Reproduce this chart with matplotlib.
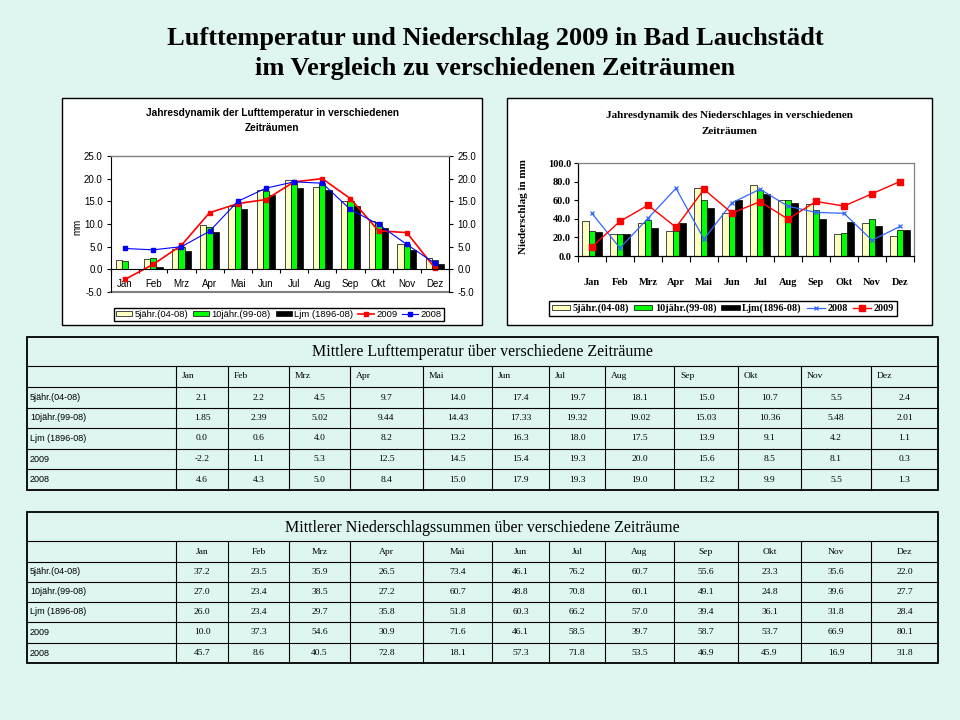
import matplotlib
matplotlib.use('Agg')
import matplotlib.pyplot as plt
import numpy as np
from matplotlib.patches import Rectangle

W, H = 960, 720
SERIF = 'Liberation Serif'
SANS = 'Liberation Sans'

months = ['Jan', 'Feb', 'Mrz', 'Apr', 'Mai', 'Jun', 'Jul', 'Aug', 'Sep', 'Okt', 'Nov', 'Dez']
row_labels = ['5jähr.(04-08)', '10jähr.(99-08)', 'Ljm (1896-08)', '2009', '2008']

# Lufttemperatur
temp_5j = [2.1, 2.2, 4.5, 9.7, 14.0, 17.4, 19.7, 18.1, 15.0, 10.7, 5.5, 2.4]
temp_10j = [1.85, 2.39, 5.02, 9.44, 14.43, 17.33, 19.32, 19.02, 15.03, 10.36, 5.48, 2.01]
temp_ljm = [0.0, 0.6, 4.0, 8.2, 13.2, 16.3, 18.0, 17.5, 13.9, 9.1, 4.2, 1.1]
temp_2009 = [-2.2, 1.1, 5.3, 12.5, 14.5, 15.4, 19.3, 20.0, 15.6, 8.5, 8.1, 0.3]
temp_2008 = [4.6, 4.3, 5.0, 8.4, 15.0, 17.9, 19.3, 19.0, 13.2, 9.9, 5.5, 1.3]

# Niederschlag
prec_5j = [37.2, 23.5, 35.9, 26.5, 73.4, 46.1, 76.2, 60.7, 55.6, 23.3, 35.6, 22.0]
prec_10j = [27.0, 23.4, 38.5, 27.2, 60.7, 48.8, 70.8, 60.1, 49.1, 24.8, 39.6, 27.7]
prec_ljm = [26.0, 23.4, 29.7, 35.8, 51.8, 60.3, 66.2, 57.0, 39.4, 36.1, 31.8, 28.4]
prec_2009 = [10.0, 37.3, 54.6, 30.9, 71.6, 46.1, 58.5, 39.7, 58.7, 53.7, 66.9, 80.1]
prec_2008 = [45.7, 8.6, 40.5, 72.8, 18.1, 57.3, 71.8, 53.5, 46.9, 45.9, 16.9, 31.8]

bg = '#DEF5F0'
c_yel = '#FFFFC0'
c_grn = '#00FF00'
grey = '#808080'


def px_axes(x0, y0, x1, y1):
    return fig.add_axes([x0 / W, 1 - y1 / H, (x1 - x0) / W, (y1 - y0) / H])


fig = plt.figure(figsize=(9.6, 7.2), dpi=100)
fig.patch.set_facecolor(bg)

page = fig.add_axes([0, 0, 1, 1])
page.set_xlim(0, W)
page.set_ylim(H, 0)
page.axis('off')

page.text(495, 38, 'Lufttemperatur und Niederschlag 2009 in Bad Lauchstädt',
          ha='center', va='center', fontsize=19, fontweight='bold', family=SERIF)
page.text(495, 68, 'im Vergleich zu verschiedenen Zeiträumen',
          ha='center', va='center', fontsize=19, fontweight='bold', family=SERIF)

# panels
page.add_patch(Rectangle((62, 98), 420, 227, fc='white', ec='black', lw=1))
page.add_patch(Rectangle((507, 98), 425, 227, fc='white', ec='black', lw=1))

x = np.arange(12)

# ---- Temperatur chart
page.text(272, 113, 'Jahresdynamik der Lufttemperatur in verschiedenen',
          ha='center', va='center', fontsize=7.3, fontweight='bold', family=SANS)
page.text(272, 128, 'Zeiträumen', ha='center', va='center', fontsize=7.3,
          fontweight='bold', family=SANS)

ax1 = px_axes(111, 156, 449, 292)
ax1.set_facecolor('none')
bw = 0.22
b1 = ax1.bar(x - bw, temp_5j, bw, color=c_yel, ec='black', lw=0.5)
b2 = ax1.bar(x, temp_10j, bw, color=c_grn, ec='black', lw=0.5)
b3 = ax1.bar(x + bw, temp_ljm, bw, color='black', ec='black', lw=0.5)
l1, = ax1.plot(x, temp_2009, color='#FF0000', lw=1.2, marker='s', ms=3.5)
l2, = ax1.plot(x, temp_2008, color='#0000FF', lw=0.8, marker='s', ms=3)
ax1.set_xlim(-0.5, 11.5)
ax1.set_ylim(-5, 25)
ax1.set_yticks(np.arange(-5, 26, 5))
ax1.set_yticklabels(['%.1f' % v for v in np.arange(-5, 26, 5)], family=SANS, fontsize=7)
ax1.yaxis.set_ticks_position('both')
ax1.tick_params(axis='y', labelright=True, length=3, width=0.8, pad=3)
ax1.spines['top'].set_color(grey)
ax1.spines['top'].set_linewidth(1)
ax1.spines['bottom'].set_position(('data', 0))
ax1.axhline(-5, color=grey, lw=1.5, clip_on=False)
ax1.set_xticks(x)
ax1.set_xticklabels(months, family=SANS, fontsize=7)
ax1.set_xticks(np.arange(-0.5, 12, 1), minor=True)
ax1.tick_params(axis='x', which='major', length=0, pad=7)
ax1.tick_params(axis='x', which='minor', length=3, width=0.8)
for k in ['left', 'right', 'bottom']:
    ax1.spines[k].set_linewidth(0.8)
page.text(77, 227, 'mm', rotation=90, ha='center', va='center', family=SANS, fontsize=7)
ax1.legend([b1, b2, b3, l1, l2], ['5jähr.(04-08)', '10jähr.(99-08)', 'Ljm (1896-08)', '2009', '2008'],
           loc='center', bbox_to_anchor=(279 / W, 1 - 314.5 / H), bbox_transform=fig.transFigure,
           ncol=5, fancybox=False, edgecolor='black', framealpha=1, prop={'family': SANS, 'size': 6.8},
           handlelength=1.7, handleheight=0.5, handletextpad=0.25, columnspacing=0.5,
           borderpad=0.25, borderaxespad=0)

# ---- Niederschlag chart
page.text(729, 115, 'Jahresdynamik des Niederschlages in verschiedenen',
          ha='center', va='center', fontsize=8, fontweight='bold', family=SERIF)
page.text(729, 132, 'Zeiträumen', ha='center', va='center', fontsize=8,
          fontweight='bold', family=SERIF)

ax2 = px_axes(578, 163, 914, 256)
ax2.set_facecolor('none')
bw = 0.23
p1 = ax2.bar(x - bw, prec_5j, bw, color=c_yel, ec='black', lw=0.5)
p2 = ax2.bar(x, prec_10j, bw, color=c_grn, ec='black', lw=0.5)
p3 = ax2.bar(x + bw, prec_ljm, bw, color='black', ec='black', lw=0.5)
q1, = ax2.plot(x, prec_2008, color='#3366FF', lw=0.9, marker='x', ms=3.5, mew=0.9)
q2, = ax2.plot(x, prec_2009, color='#FF0000', lw=1, marker='s', ms=4)
ax2.set_xlim(-0.5, 11.5)
ax2.set_ylim(0, 100)
ax2.set_yticks(np.arange(0, 101, 20))
ax2.set_yticklabels(['%.1f' % v for v in np.arange(0, 101, 20)], family=SERIF,
                    fontsize=7.5, fontweight='bold')
ax2.tick_params(axis='y', length=3, width=0.8, pad=2)
ax2.spines['top'].set_color(grey)
ax2.spines['right'].set_color(grey)
ax2.set_xticks(x)
ax2.set_xticklabels(months, family=SERIF, fontsize=7.5, fontweight='bold')
ax2.set_xticks(np.arange(-0.5, 12, 1), minor=True)
ax2.tick_params(axis='x', which='major', length=0, pad=16)
ax2.tick_params(axis='x', which='minor', length=4, width=0.8)
for s in ax2.spines.values():
    s.set_linewidth(0.9)
page.text(524, 207, 'Niederschlag in mm', rotation=90, ha='center', va='center',
          family=SERIF, fontsize=8, fontweight='bold')
ax2.legend([p1, p2, p3, q1, q2], ['5jähr.(04-08)', '10jähr.(99-08)', 'Ljm(1896-08)', '2008', '2009'],
           loc='center', bbox_to_anchor=(723 / W, 1 - 308.5 / H), bbox_transform=fig.transFigure,
           ncol=5, fancybox=False, edgecolor='black', framealpha=1,
           prop={'family': SERIF, 'size': 7.3, 'weight': 'bold'},
           handlelength=1.8, handleheight=0.5, handletextpad=0.25, columnspacing=0.5,
           borderpad=0.3, borderaxespad=0)

# ---- tables
col_edges = [27, 176, 228, 289, 350, 423, 492, 549, 605, 674, 738, 801, 871, 938]


def draw_table(y_edges, title, rows, fmts, header_center):
    x0, x1 = col_edges[0], col_edges[-1]
    page.add_patch(Rectangle((x0, y_edges[0]), x1 - x0, y_edges[-1] - y_edges[0],
                             fill=False, ec='black', lw=1.3))
    for y in y_edges[1:-1]:
        page.plot([x0, x1], [y, y], color='black', lw=0.8)
    for xe in col_edges[1:-1]:
        page.plot([xe, xe], [y_edges[1], y_edges[-1]], color='black', lw=0.8)
    page.text((x0 + x1) / 2, (y_edges[0] + y_edges[1]) / 2 + 1, title, ha='center', va='center',
              family=SERIF, fontsize=11.5)
    yh = (y_edges[1] + y_edges[2]) / 2
    for i, m in enumerate(months):
        if header_center:
            page.text((col_edges[i + 1] + col_edges[i + 2]) / 2, yh, m, ha='center', va='center',
                      family=SERIF, fontsize=6.8)
        else:
            page.text(col_edges[i + 1] + 6, yh, m, ha='left', va='center', family=SERIF, fontsize=6.8)
    for r, (lab, vals, f) in enumerate(zip(row_labels, rows, fmts)):
        yc = (y_edges[r + 2] + y_edges[r + 3]) / 2
        page.text(x0 + 3, yc, lab, ha='left', va='center', family=SANS, fontsize=6.5)
        for i, v in enumerate(vals):
            page.text((col_edges[i + 1] + col_edges[i + 2]) / 2, yc, f % v, ha='center',
                      va='center', family=SERIF, fontsize=6.8)


draw_table([337, 366, 387, 408, 428, 449, 469, 490],
           'Mittlere Lufttemperatur über verschiedene Zeiträume',
           [temp_5j, temp_10j, temp_ljm, temp_2009, temp_2008],
           ['%.1f', '%.2f', '%.1f', '%.1f', '%.1f'], False)
draw_table([512, 541, 562, 582, 602, 622, 643, 663],
           'Mittlerer Niederschlagssummen über verschiedene Zeiträume',
           [prec_5j, prec_10j, prec_ljm, prec_2009, prec_2008],
           ['%.1f'] * 5, True)

fig.savefig('out.png', dpi=100, facecolor=bg)
